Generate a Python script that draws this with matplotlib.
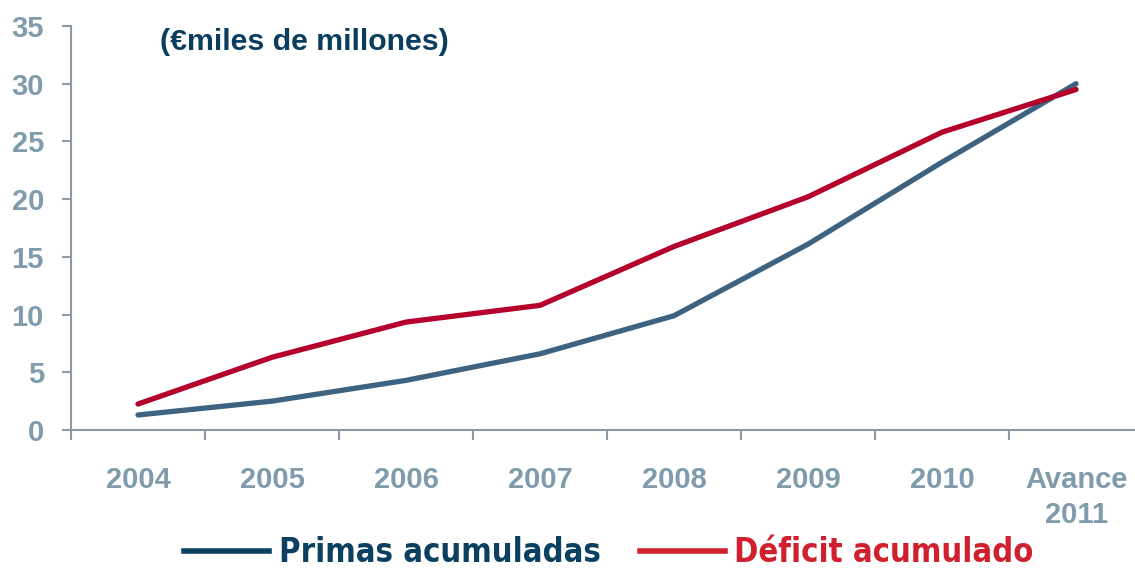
import matplotlib.pyplot as plt
from matplotlib.lines import Line2D

# values (miles de millones de euros)
years = ['2004', '2005', '2006', '2007', '2008', '2009', '2010', 'Avance\n2011']
primas = [1.3, 2.5, 4.3, 6.6, 9.9, 16.1, 23.2, 30.0]
deficit = [2.25, 6.3, 9.35, 10.8, 15.9, 20.2, 25.8, 29.5]

tick_color = '#7F9BAC'
axis_color = '#8C9AA8'
blue_line = '#3D6380'
red_line = '#B5002B'

plt.rcParams['font.family'] = ['Liberation Sans', 'DejaVu Sans']
plt.rcParams['font.weight'] = 'bold'

fig = plt.figure(figsize=(11.35, 5.69), dpi=100)
ax = fig.add_axes([71 / 1135, 1 - 430 / 569, 1 - 71 / 1135, (430 - 26) / 569])

x = list(range(len(years)))
ax.plot(x, primas, color=blue_line, linewidth=3.8, solid_capstyle='round')
ax.plot(x, deficit, color=red_line, linewidth=3.8, solid_capstyle='round')

ax.set_xlim(-0.5, 7.44)
ax.set_ylim(0, 35)

ax.set_yticks(range(0, 36, 5))
ax.set_xticks(x)
ax.set_xticklabels(years, linespacing=1.3)
ax.set_xticks([i - 0.5 for i in range(len(years))], minor=True)

ax.tick_params(axis='x', which='major', length=0, pad=26, labelsize=21, labelcolor=tick_color)
ax.tick_params(axis='x', which='minor', length=7, width=1.5, color=axis_color)
ax.tick_params(axis='y', length=6.5, width=1.5, color=axis_color, pad=13,
               labelsize=21, labelcolor=tick_color)

for side in ['top', 'right']:
    ax.spines[side].set_visible(False)
for side in ['left', 'bottom']:
    ax.spines[side].set_color(axis_color)
    ax.spines[side].set_linewidth(1.5)

fig.text(160 / 1135, 1 - 42 / 569, '(€miles de millones)', color='#0B3D5F',
         fontsize=21.8, fontweight='bold', va='center', ha='left')

handles = [Line2D([], [], color='#0B4060', linewidth=4),
           Line2D([], [], color='#D0202E', linewidth=4)]
fig.legend(handles, ['Primas acumuladas', 'Déficit acumulado'],
           loc='center', bbox_to_anchor=(609 / 1135, 1 - 553 / 569), ncol=2,
           frameon=False, labelcolor=['#0B4060', '#D0202E'],
           prop={'family': 'DejaVu Sans', 'stretch': 'condensed', 'weight': 'bold', 'size': 23.5},
           handlelength=2.6, handletextpad=0.3, columnspacing=1.2, borderpad=0, borderaxespad=0)

fig.savefig('out.png', dpi=100)
